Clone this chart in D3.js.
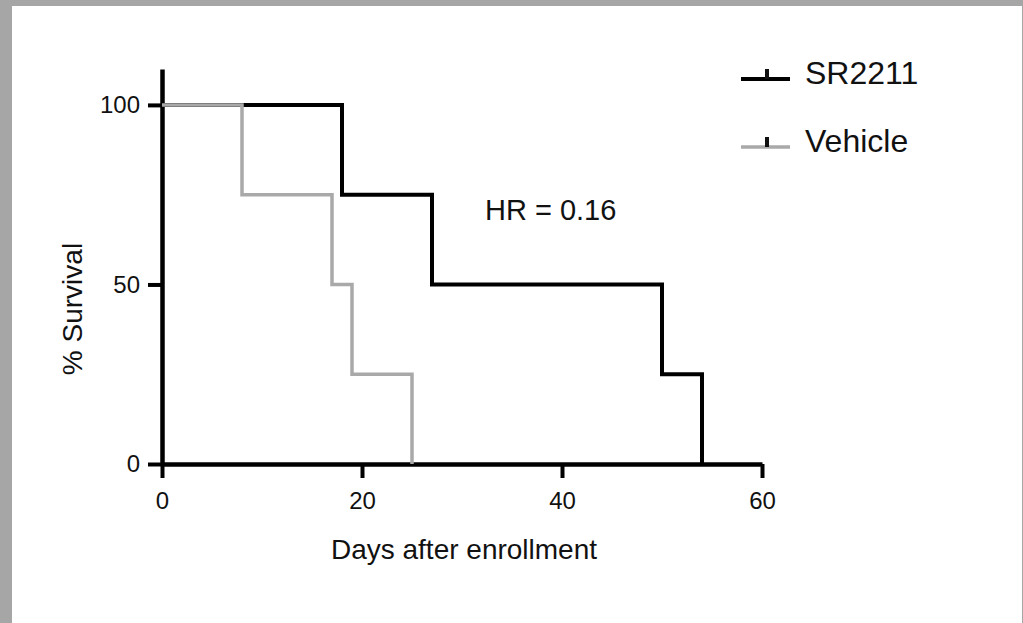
<!DOCTYPE html>
<html>
<head>
<meta charset="utf-8">
<script src="https://cdn.jsdelivr.net/npm/d3@7"></script>
<style>
  html, body { margin: 0; padding: 0; background: #a6a6a6; }
  svg { display: block; }
  text { font-family: "Liberation Sans", Arial, Helvetica, sans-serif; fill: #111; }
</style>
</head>
<body>
<svg id="chart" width="1023" height="623"></svg>
<script>
// ---- data ----
const srTimes = [0, 18, 27, 50, 54];
const srSurvival = [100, 75, 50, 25, 0];
const vehTimes = [0, 8, 17, 19, 25];
const vehSurvival = [100, 75, 50, 25, 0];
const seriesNames = ["SR2211", "Vehicle"];
const xTicks = [0, 20, 40, 60];
const yTicks = [0, 50, 100];
const xTitle = "Days after enrollment";
const yTitle = "% Survival";
const annotation = "HR = 0.16";

const svg = d3.select("#chart");
svg.append("rect").attr("x", 0).attr("y", 0).attr("width", 1023).attr("height", 623).attr("fill", "#a6a6a6");
svg.append("rect").attr("x", 12).attr("y", 6).attr("width", 1010).attr("height", 617).attr("fill", "#ffffff");

const x = d3.scaleLinear().domain([0, 60]).range([162, 762]);
const y = d3.scaleLinear().domain([0, 110]).range([464, 69]);

const colors = { "SR2211": "#000000", "Vehicle": "#a9a9a9" };
const widths = { "SR2211": 4, "Vehicle": 3.5 };

// axes
const yAxis = d3.axisLeft(y).tickValues(yTicks).tickSize(14).tickSizeOuter(0).tickPadding(8);
const xAxis = d3.axisBottom(x).tickValues(xTicks).tickSize(14).tickSizeOuter(0).tickPadding(14);

function styleAxis(g) {
  g.select(".domain").attr("stroke", "#000").attr("stroke-width", 4.5);
  g.selectAll(".tick line").attr("stroke", "#000").attr("stroke-width", 4);
  g.selectAll(".tick text").attr("font-size", 24).attr("fill", "#111")
    .attr("font-family", "Liberation Sans, Arial, sans-serif");
}

const gx = svg.append("g").attr("transform", `translate(0,${y(0)})`).call(xAxis).call(styleAxis);
const gy = svg.append("g").attr("transform", `translate(${x(0)},0)`).call(yAxis).call(styleAxis);

// curves
const line = d3.line().x(d => x(d[0])).y(d => y(d[1])).curve(d3.curveStepAfter);
const series = [
  { name: "SR2211", pts: srTimes.map((t, i) => [t, srSurvival[i]]) },
  { name: "Vehicle", pts: vehTimes.map((t, i) => [t, vehSurvival[i]]) }
];
svg.selectAll("path.km").data(series).enter().append("path")
  .attr("class", "km")
  .attr("d", d => line(d.pts))
  .attr("fill", "none")
  .attr("stroke", d => colors[d.name])
  .attr("stroke-width", d => widths[d.name])
  .attr("stroke-linejoin", "miter")
  .attr("stroke-linecap", "butt");

// titles
svg.append("text").attr("x", 464).attr("y", 559).attr("text-anchor", "middle")
  .attr("font-size", 28).text(xTitle);
svg.append("text").attr("transform", "translate(82,309) rotate(-90)").attr("text-anchor", "middle")
  .attr("font-size", 28).text(yTitle);

// annotation
svg.append("text").attr("x", 485).attr("y", 220).attr("font-size", 29).text(annotation);

// legend
const legendY = { "SR2211": 79, "Vehicle": 147 };
const lg = svg.append("g");
seriesNames.forEach(name => {
  const ly = legendY[name];
  lg.append("line").attr("x1", 741).attr("x2", 790).attr("y1", ly).attr("y2", ly)
    .attr("stroke", colors[name]).attr("stroke-width", name === "SR2211" ? 4 : 3.5);
  lg.append("line").attr("x1", 767).attr("x2", 767).attr("y1", ly - 10).attr("y2", ly)
    .attr("stroke", "#111").attr("stroke-width", 4);
  lg.append("text").attr("x", 805).attr("y", ly + 5).attr("font-size", 32)
    .text(name);
});
</script>
</body>
</html>
